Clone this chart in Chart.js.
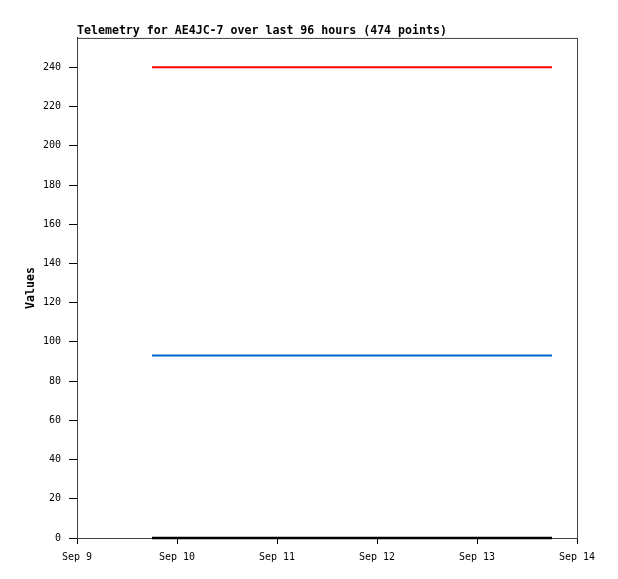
<!DOCTYPE html>
<html>
<head>
<meta charset="utf-8">
<style>
  html, body { margin: 0; padding: 0; background: #fff; }
  #wrap { width: 618px; height: 579px; }
</style>
<script src="https://cdn.jsdelivr.net/npm/chart.js@4/dist/chart.umd.min.js"></script>
</head>
<body>
<div id="wrap"><canvas id="telemetry" width="618" height="579"></canvas></div>
<script>
// data (x = day of September)
const xDays = [9.75, 13.75];
const seriesRed = [240, 240];
const seriesBlue = [93, 93];
const seriesBlack = [0, 0];
const xTickLabels = ['Sep 9', 'Sep 10', 'Sep 11', 'Sep 12', 'Sep 13', 'Sep 14'];
const xTickDays = [9, 10, 11, 12, 13, 14];

const mono = "'DejaVu Sans Mono', 'Liberation Mono', monospace";

const toPoints = vals => vals.map((v, i) => ({ x: xDays[i], y: v }));

// grey frame around plot area
const framePlugin = {
  id: 'frame',
  beforeDatasetsDraw(chart) {
    const { ctx, chartArea: a } = chart;
    ctx.save();
    ctx.strokeStyle = '#404040';
    ctx.lineWidth = 1;
    ctx.strokeRect(a.left + 0.5, a.top + 0.5, a.right - a.left, a.bottom - a.top);
    ctx.restore();
  }
};

const initChart = () => {
  const ctx = document.getElementById('telemetry').getContext('2d');
  new Chart(ctx, {
    type: 'line',
    data: {
      datasets: [
        { data: toPoints(seriesRed), borderColor: '#ff0000', borderWidth: 2 },
        { data: toPoints(seriesBlue), borderColor: '#0066cc', borderWidth: 2 },
        { data: toPoints(seriesBlack), borderColor: '#000000', borderWidth: 2.5, clip: false }
      ]
    },
    options: {
      responsive: false,
      animation: false,
      devicePixelRatio: 1,
      elements: { point: { radius: 0 }, line: { tension: 0 } },
      layout: { padding: { left: 0, right: 41, top: 0, bottom: 0 } },
      plugins: {
        legend: { display: false },
        tooltip: { enabled: false },
        title: {
          display: true,
          text: 'Telemetry for AE4JC-7 over last 96 hours (474 points)',
          align: 'start',
          fullSize: false,
          color: '#000',
          font: { family: mono, size: 11.6, weight: 'bold', lineHeight: 1.2 },
          padding: { top: 24, bottom: 0 }
        }
      },
      scales: {
        x: {
          type: 'linear',
          min: 9,
          max: 14,
          afterFit: s => { s.height = 41; },
          afterBuildTicks: s => { s.ticks = xTickDays.map(v => ({ value: v })); },
          border: { color: '#000', width: 1 },
          grid: { drawOnChartArea: false, color: '#000', tickLength: 6 },
          ticks: {
            color: '#000',
            font: { family: mono, size: 10 },
            padding: 7,
            maxRotation: 0,
            callback: v => xTickLabels[xTickDays.indexOf(v)]
          }
        },
        y: {
          min: 0,
          max: 255,
          afterFit: s => { s.width = 77; },
          border: { color: '#000', width: 1 },
          grid: { drawOnChartArea: false, color: '#000', tickLength: 8 },
          ticks: {
            stepSize: 20,
            includeBounds: false,
            color: '#000',
            font: { family: mono, size: 10 },
            padding: 8
          },
          title: {
            display: true,
            text: 'Values',
            color: '#000',
            font: { family: mono, size: 11.6, weight: 'bold', lineHeight: 1.2 },
            padding: { top: 24, bottom: 0 }
          }
        }
      }
    },
    plugins: [framePlugin]
  });
};

document.addEventListener('DOMContentLoaded', initChart);
</script>
</body>
</html>
